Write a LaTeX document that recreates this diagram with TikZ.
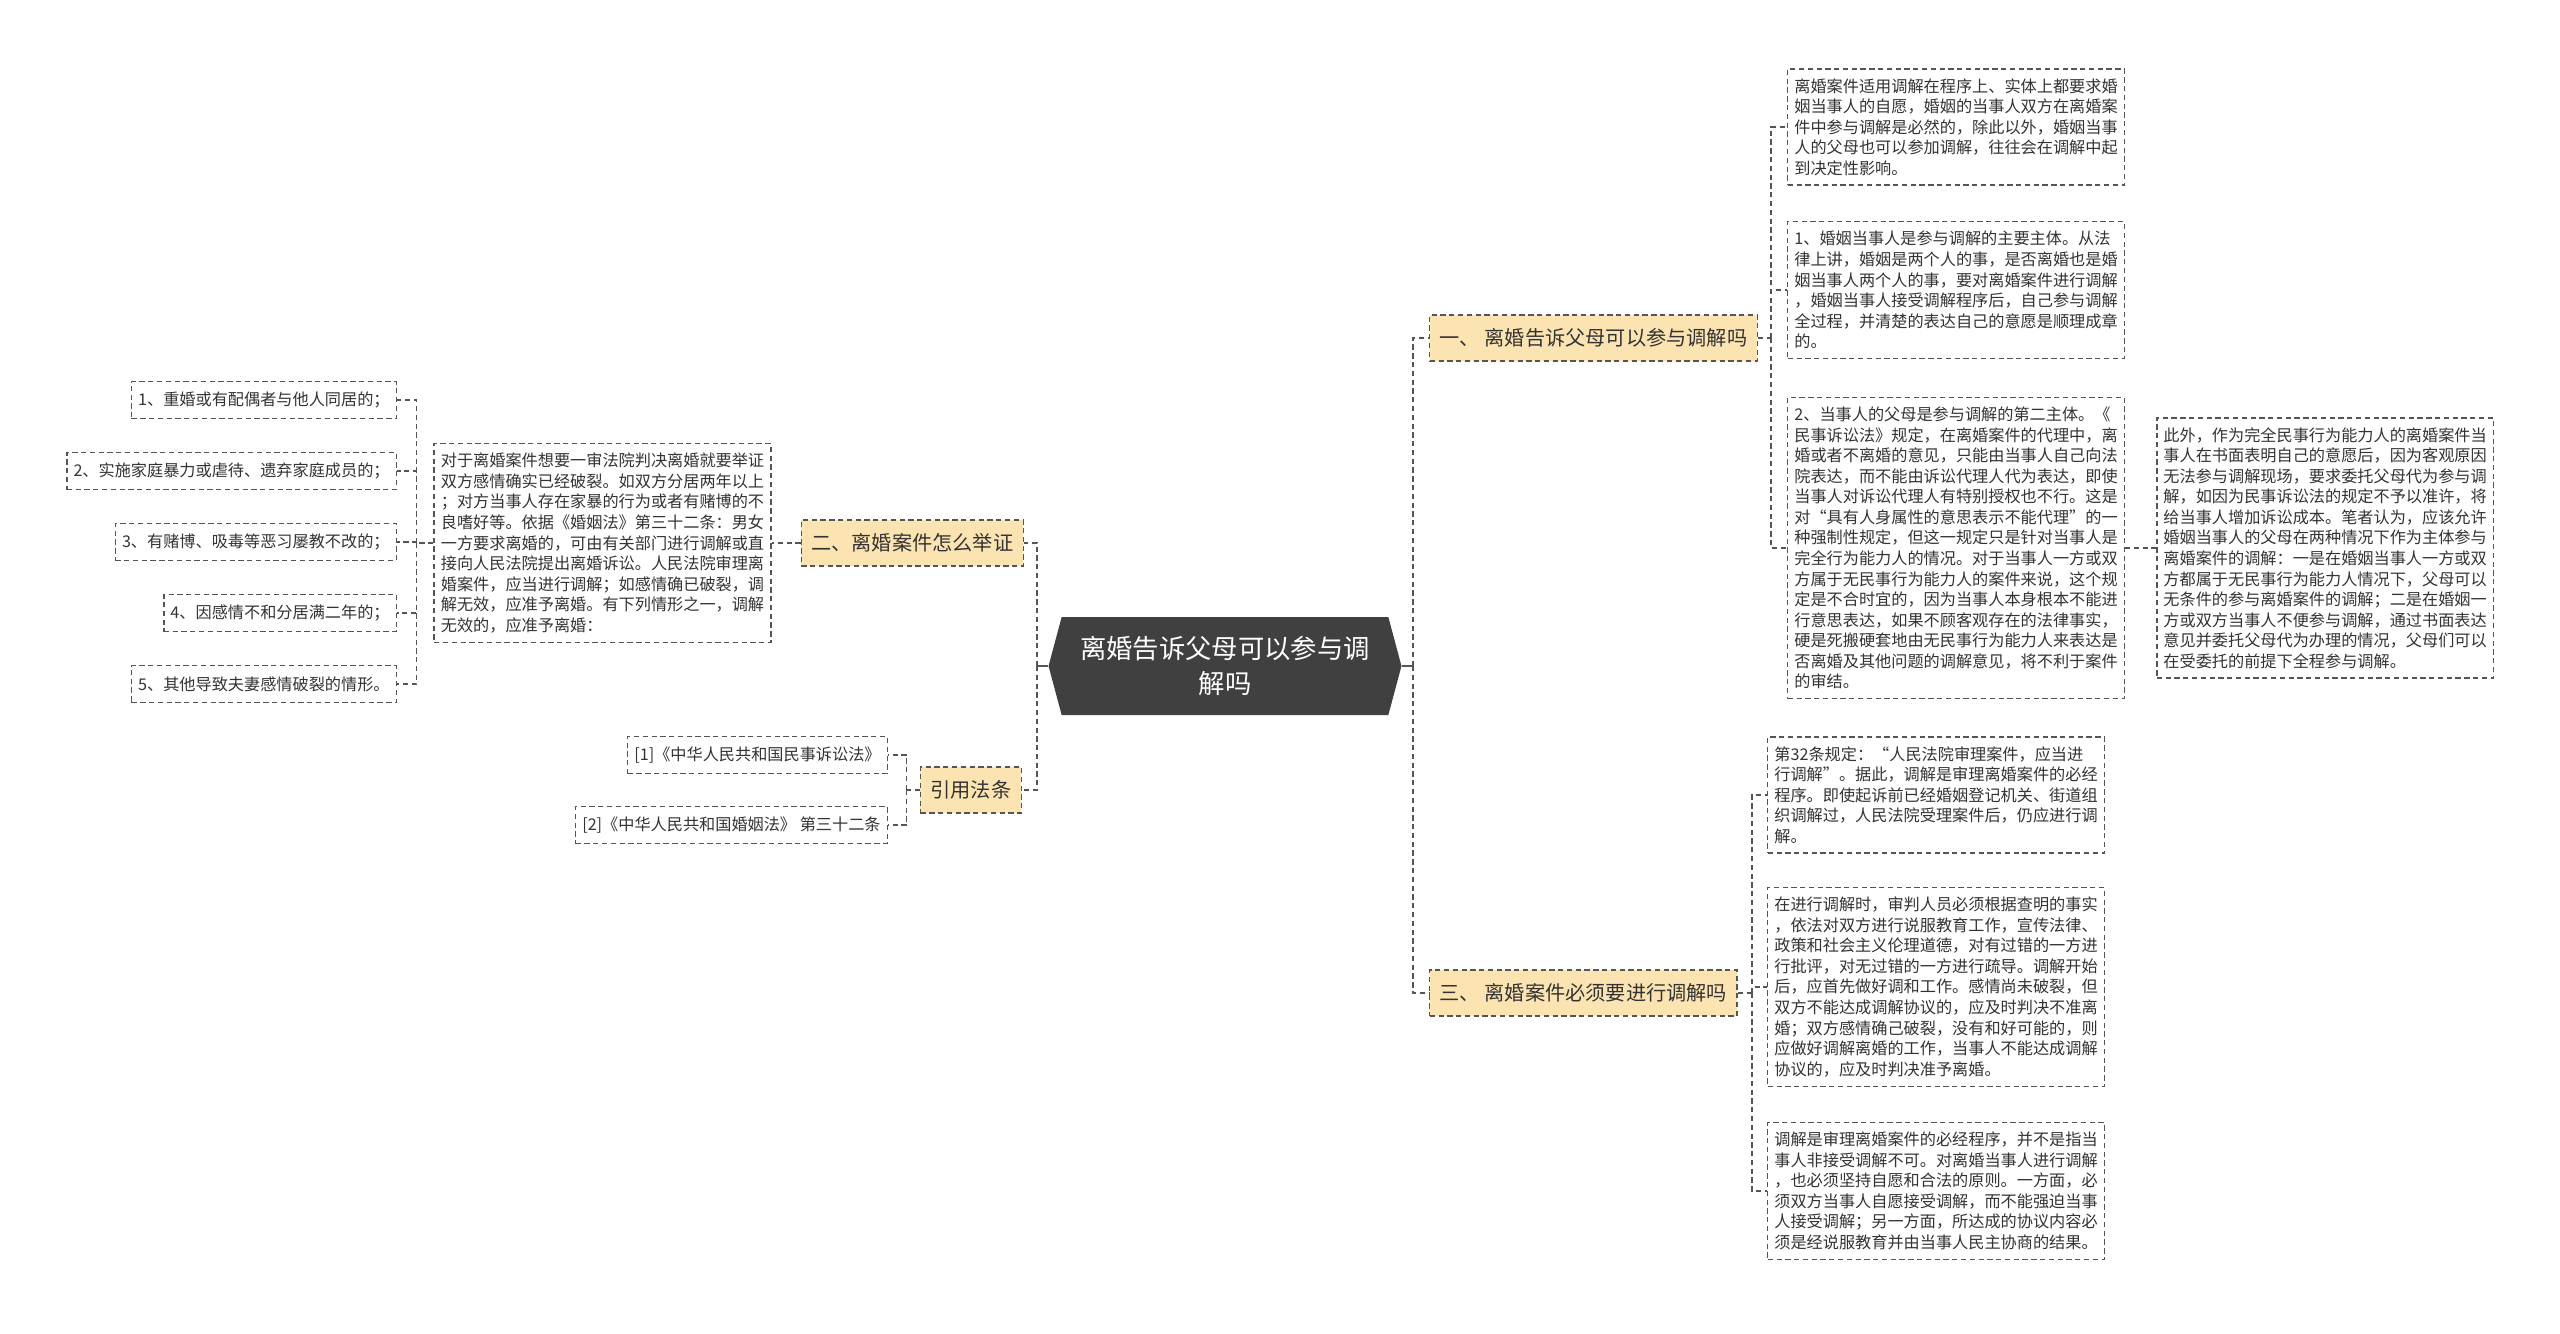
\documentclass[tikz,border=0pt]{standalone}
\usepackage{fontspec}
\setmainfont{Noto Sans CJK SC}
\usetikzlibrary{positioning, shapes.symbols}

\definecolor{rootgray}{HTML}{404040}
\definecolor{branchfill}{HTML}{FCE4B2}
\definecolor{linegray}{HTML}{555555}
\definecolor{textgray}{HTML}{333333}

\begin{document}
\begin{tikzpicture}[
    x=0.02cm, y=-0.02cm,
    node distance=0.3cm and 0.6cm,
    rootnode/.style={signal, signal to=west and east, signal pointer angle=150, fill=rootgray, text=white, align=center, font=\fontsize{15}{20}\selectfont, minimum width=7.06cm, minimum height=1.96cm, inner sep=2pt},
    branchnode/.style={draw=linegray, dash pattern=on 3pt off 2pt, line width=0.8pt, fill=branchfill, text=textgray, font=\fontsize{11.5}{14}\selectfont, minimum height=0.92cm, inner xsep=0.2cm},
    leafnode/.style={draw=linegray, dash pattern=on 3pt off 2pt, line width=0.8pt, fill=white, text=textgray, align=left, font=\fontsize{9.2}{11.7}\selectfont, inner xsep=0.134cm, inner ysep=0.19cm},
    itemnode/.style={leafnode, minimum height=0.74cm, inner ysep=0pt},
    link/.style={draw=linegray, dash pattern=on 3pt off 2pt, line width=0.8pt},
    stem/.style={draw=linegray, line width=0.8pt}
]

\path[use as bounding box, fill=white] (0,0) rectangle (2560,1333);

% Root
\node[rootnode] (root) at (1225,666) {离婚告诉父母可以参与调\\解吗};

% Branches
\node[branchnode, anchor=west] (b1) at (1429,338) {一、 离婚告诉父母可以参与调解吗};
\node[branchnode, anchor=west] (b3) at (1429,993) {三、 离婚案件必须要进行调解吗};
\node[branchnode, anchor=east] (b2) at (1024,543) {二、离婚案件怎么举证};
\node[branchnode, anchor=east] (law) at (1022,790) {引用法条};

\coordinate (rbus) at (1413,666);
\coordinate (lbus) at (1037,666);
\draw[stem] (root.east) -- (rbus);
\draw[stem] (root.west) -- (lbus);
\foreach \b in {b1,b3}
    \draw[link] (rbus) |- (\b.west);
\foreach \b in {b2,law}
    \draw[link] (lbus) |- (\b.east);

% Branch 1 leaves
\node[leafnode, anchor=west] (leaf1a) at (1787,127) {离婚案件适用调解在程序上、实体上都要求婚\\姻当事人的自愿，婚姻的当事人双方在离婚案\\件中参与调解是必然的，除此以外，婚姻当事\\人的父母也可以参加调解，往往会在调解中起\\到决定性影响。};
\node[leafnode, anchor=west] (leaf1b) at (1787,290) {1、婚姻当事人是参与调解的主要主体。从法\\律上讲，婚姻是两个人的事，是否离婚也是婚\\姻当事人两个人的事，要对离婚案件进行调解\\，婚姻当事人接受调解程序后，自己参与调解\\全过程，并清楚的表达自己的意愿是顺理成章\\的。};
\node[leafnode, anchor=west] (leaf1c) at (1787,548) {2、当事人的父母是参与调解的第二主体。《\\民事诉讼法》规定，在离婚案件的代理中，离\\婚或者不离婚的意见，只能由当事人自己向法\\院表达，而不能由诉讼代理人代为表达，即使\\当事人对诉讼代理人有特别授权也不行。这是\\对“具有人身属性的意思表示不能代理”的一\\种强制性规定，但这一规定只是针对当事人是\\完全行为能力人的情况。对于当事人一方或双\\方属于无民事行为能力人的案件来说，这个规\\定是不合时宜的，因为当事人本身根本不能进\\行意思表达，如果不顾客观存在的法律事实，\\硬是死搬硬套地由无民事行为能力人来表达是\\否离婚及其他问题的调解意见，将不利于案件\\的审结。};
\node[leafnode, right=0.62cm of leaf1c] (leaf1d) {此外，作为完全民事行为能力人的离婚案件当\\事人在书面表明自己的意愿后，因为客观原因\\无法参与调解现场，要求委托父母代为参与调\\解，如因为民事诉讼法的规定不予以准许，将\\给当事人增加诉讼成本。笔者认为，应该允许\\婚姻当事人的父母在两种情况下作为主体参与\\离婚案件的调解：一是在婚姻当事人一方或双\\方都属于无民事行为能力人情况下，父母可以\\无条件的参与离婚案件的调解；二是在婚姻一\\方或双方当事人不便参与调解，通过书面表达\\意见并委托父母代为办理的情况，父母们可以\\在受委托的前提下全程参与调解。};

\coordinate (b1bus) at ([xshift=0.26cm]b1.east);
\draw[link] (b1.east) -- (b1bus);
\foreach \n in {a,b,c}
    \draw[link] (b1bus) |- (leaf1\n.west);
\draw[link] (leaf1c.east) -- (leaf1d.west);

% Branch 3 leaves
\node[leafnode, anchor=west] (leaf3a) at (1767,795) {第32条规定：“人民法院审理案件，应当进\\行调解”。据此，调解是审理离婚案件的必经\\程序。即使起诉前已经婚姻登记机关、街道组\\织调解过，人民法院受理案件后，仍应进行调\\解。};
\node[leafnode, anchor=west] (leaf3b) at (1767,987) {在进行调解时，审判人员必须根据查明的事实\\，依法对双方进行说服教育工作，宣传法律、\\政策和社会主义伦理道德，对有过错的一方进\\行批评，对无过错的一方进行疏导。调解开始\\后，应首先做好调和工作。感情尚未破裂，但\\双方不能达成调解协议的，应及时判决不准离\\婚；双方感情确己破裂，没有和好可能的，则\\应做好调解离婚的工作，当事人不能达成调解\\协议的，应及时判决准予离婚。};
\node[leafnode, anchor=west] (leaf3c) at (1767,1191) {调解是审理离婚案件的必经程序，并不是指当\\事人非接受调解不可。对离婚当事人进行调解\\，也必须坚持自愿和合法的原则。一方面，必\\须双方当事人自愿接受调解，而不能强迫当事\\人接受调解；另一方面，所达成的协议内容必\\须是经说服教育并由当事人民主协商的结果。};

\coordinate (b3bus) at ([xshift=0.28cm]b3.east);
\draw[link] (b3.east) -- (b3bus);
\foreach \n in {a,b,c}
    \draw[link] (b3bus) |- (leaf3\n.west);

% Branch 2 leaves
\node[leafnode, left=0.58cm of b2] (leaf2) {对于离婚案件想要一审法院判决离婚就要举证\\双方感情确实已经破裂。如双方分居两年以上\\；对方当事人存在家暴的行为或者有赌博的不\\良嗜好等。依据《婚姻法》第三十二条：男女\\一方要求离婚的，可由有关部门进行调解或直\\接向人民法院提出离婚诉讼。人民法院审理离\\婚案件，应当进行调解；如感情确已破裂，调\\解无效，应准予离婚。有下列情形之一，调解\\无效的，应准予离婚：};
\draw[link] (b2.west) -- (leaf2.east);

\node[itemnode, anchor=east] (item1) at (397,400) {1、重婚或有配偶者与他人同居的；};
\node[itemnode, anchor=east] (item2) at (397,471) {2、实施家庭暴力或虐待、遗弃家庭成员的；};
\node[itemnode, anchor=east] (item3) at (397,542) {3、有赌博、吸毒等恶习屡教不改的；};
\node[itemnode, anchor=east] (item4) at (397,613) {4、因感情不和分居满二年的；};
\node[itemnode, anchor=east] (item5) at (397,684) {5、其他导致夫妻感情破裂的情形。};

\coordinate (ibus) at ([xshift=-0.34cm]leaf2.west);
\draw[link] (leaf2.west) -- (ibus);
\foreach \i in {1,...,5}
    \draw[link] (ibus) |- (item\i.east);

% Law references
\node[itemnode, anchor=east] (law1) at (888,755) {[1]《中华人民共和国民事诉讼法》};
\node[itemnode, anchor=east] (law2) at (888,825) {[2]《中华人民共和国婚姻法》 第三十二条};

\coordinate (lawbus) at ([xshift=-0.26cm]law.west);
\draw[link] (law.west) -- (lawbus);
\foreach \i in {1,2}
    \draw[link] (lawbus) |- (law\i.east);

\end{tikzpicture}
\end{document}
